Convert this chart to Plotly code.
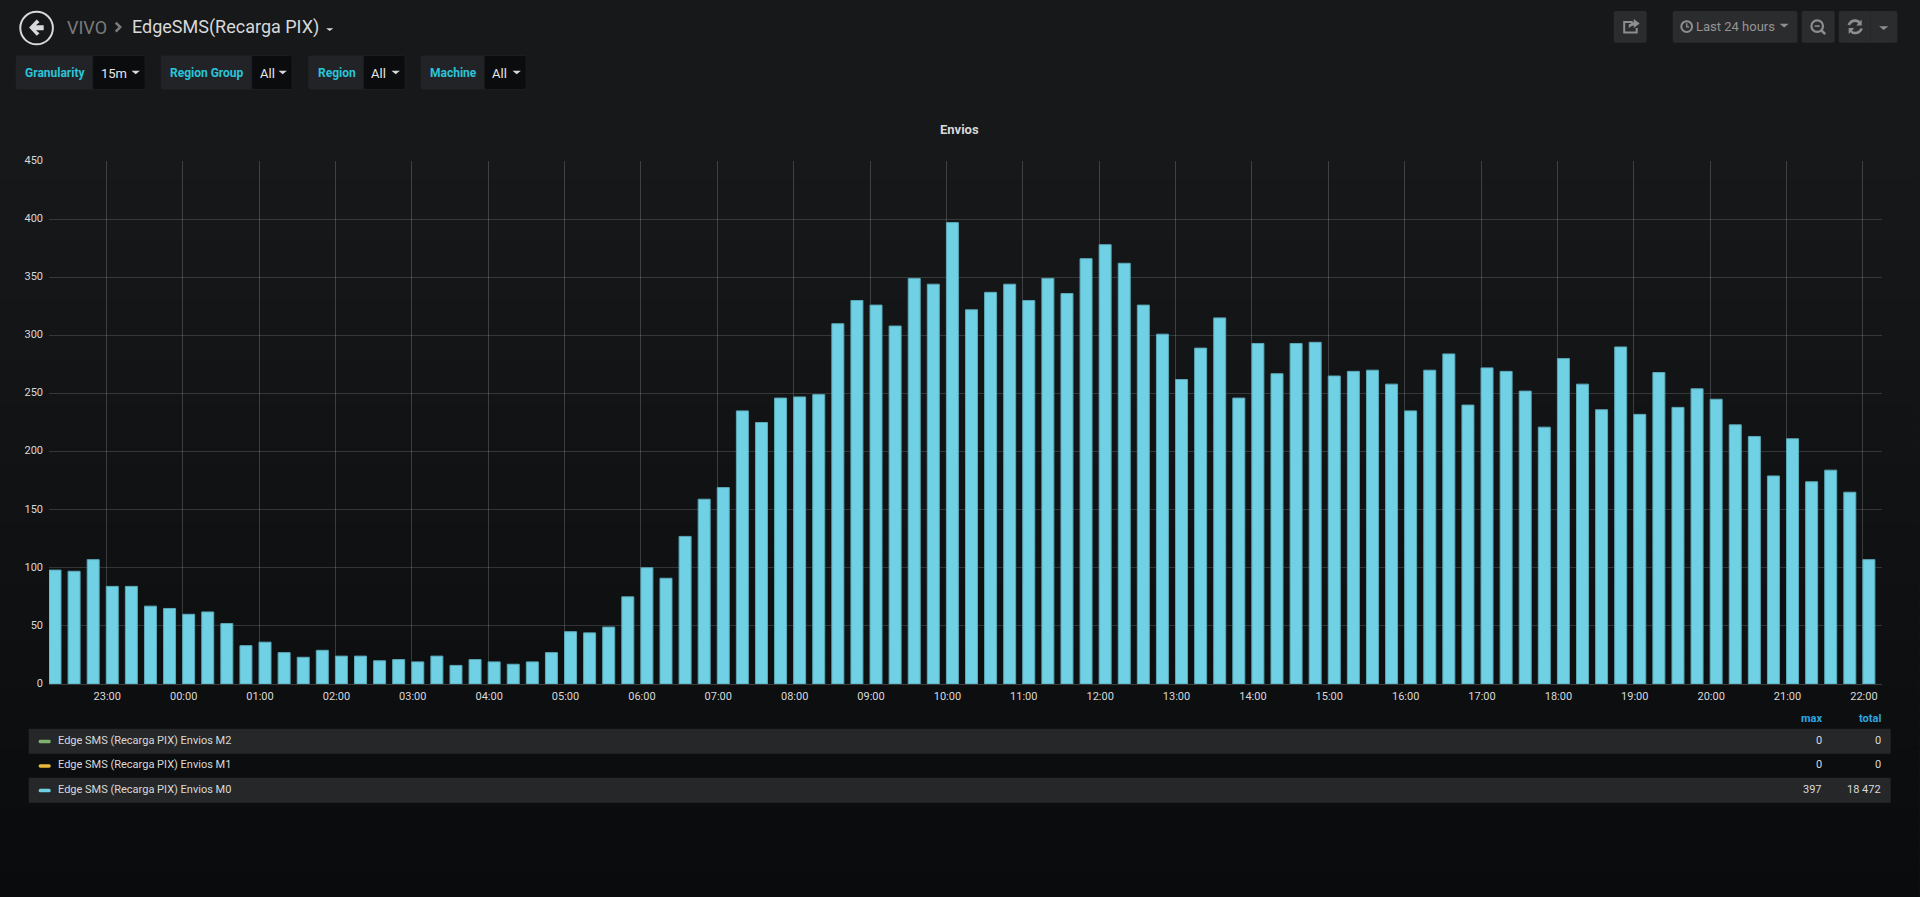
import pandas as pd
import plotly.graph_objects as go

# ---------- data ----------
START = "2024-01-01 22:15"
M0_VALUES = [98, 97, 107, 84, 84, 67, 65, 60, 62, 52, 33, 36, 27, 23, 29, 24,
             24, 20, 21, 19, 24, 16, 21, 19, 17, 19, 27, 45, 44, 49, 75, 100,
             91, 127, 159, 169, 235, 225, 246, 247, 249, 310, 330, 326, 308, 349,
             344, 397, 322, 337, 344, 330, 349, 336, 366, 378, 362, 326, 301, 262,
             289, 315, 246, 293, 267, 293, 294, 265, 269, 270, 258, 235, 270, 284,
             240, 272, 269, 252, 221, 280, 258, 236, 290, 232, 268, 238, 254, 245,
             223, 213, 179, 211, 174, 184, 165, 107]
M1_VALUES = [0] * len(M0_VALUES)
M2_VALUES = [0] * len(M0_VALUES)
NAME_M2 = "Edge SMS (Recarga PIX) Envios M2"
NAME_M1 = "Edge SMS (Recarga PIX) Envios M1"
NAME_M0 = "Edge SMS (Recarga PIX) Envios M0"
Y_TICKS = [0, 50, 100, 150, 200, 250, 300, 350, 400, 450]
VARIABLES = ["Granularity", "Region Group", "Region", "Machine"]
VARIABLE_VALUES = ["15m", "All", "All", "All"]

times = pd.date_range(START, periods=len(M0_VALUES), freq="15min")

# ---------- geometry ----------
W, H = 1920, 897
L, R, T, B = 49.3, 1882.3, 161.0, 684.3
FONT = "Roboto, sans-serif"
TEXT = "#d8d9da"
GREEN, YELLOW, CYAN = "#7EB26D", "#EAB839", "#6ED0E0"


def px(x):
    return (x - L) / (R - L)


def py(y):
    return (B - y) / (B - T)


shapes, notes = [], []


def rect(x0, y0, x1, y1, fill, line=None, r=0):
    if r:
        X0, X1, Y0, Y1 = x0, x1, y0, y1
        p = (f"M{px(X0 + r)},{py(Y0)} L{px(X1 - r)},{py(Y0)} Q{px(X1)},{py(Y0)} {px(X1)},{py(Y0 + r)} "
             f"L{px(X1)},{py(Y1 - r)} Q{px(X1)},{py(Y1)} {px(X1 - r)},{py(Y1)} "
             f"L{px(X0 + r)},{py(Y1)} Q{px(X0)},{py(Y1)} {px(X0)},{py(Y1 - r)} "
             f"L{px(X0)},{py(Y0 + r)} Q{px(X0)},{py(Y0)} {px(X0 + r)},{py(Y0)} Z")
        shapes.append(dict(type="path", path=p, xref="paper", yref="paper", fillcolor=fill,
                           line=dict(width=1 if line else 0, color=line or fill), layer="below"))
    else:
        shapes.append(dict(type="rect", xref="paper", yref="paper", x0=px(x0), x1=px(x1), y0=py(y0), y1=py(y1),
                           fillcolor=fill, line=dict(width=1 if line else 0, color=line or fill), layer="below"))


def poly(points, fill=None, line=None, width=1, close=True):
    p = "M" + " L".join(f"{px(a)},{py(b)}" for a, b in points) + (" Z" if close else "")
    shapes.append(dict(type="path", path=p, xref="paper", yref="paper",
                       fillcolor=fill if fill else "rgba(0,0,0,0)",
                       line=dict(width=width if line else 0, color=line or "rgba(0,0,0,0)"), layer="above"))


def circle(cx, cy, r, line, width=1, fill="rgba(0,0,0,0)"):
    shapes.append(dict(type="circle", xref="paper", yref="paper", x0=px(cx - r), x1=px(cx + r),
                       y0=py(cy + r), y1=py(cy - r), line=dict(color=line, width=width), fillcolor=fill, layer="above"))


def text(x, y, s, size=11, color=TEXT, anchor="left", bold=False, family=FONT):
    notes.append(dict(x=px(x), y=py(y), xref="paper", yref="paper", text=f"<b>{s}</b>" if bold else s,
                      showarrow=False, xanchor=anchor, yanchor="middle", borderpad=0, borderwidth=0,
                      font=dict(family=family, size=size, color=color)))


def caret(x, y, w=4.2, h=3.4, color=TEXT):
    poly([(x - w, y - h / 2), (x + w, y - h / 2), (x, y + h / 2)], fill=color)


# page gradient
TOP_C, BOT_C = (23, 24, 26), (10, 11, 13)
STRIPS = 50
for i in range(STRIPS):
    t = i / (STRIPS - 1)
    c = tuple(round(a + (b - a) * t) for a, b in zip(TOP_C, BOT_C))
    y0 = 150 + (H - 150) * i / STRIPS
    y1 = 150 + (H - 150) * (i + 1) / STRIPS + 1
    rect(0, y0, W, y1, f"rgb{c}")

# header
circle(36.9, 28, 16.3, TEXT, 2)
poly([(29.4, 27.5), (37, 19.5), (39.8, 22.2), (36.2, 25.2), (44, 25.2), (44, 30.2),
      (36.2, 30.2), (39.8, 33.2), (37, 35.6)], fill=TEXT)
text(67, 27, "VIVO", 18, "#7b7b7b")
poly([(116, 22.5), (120.5, 27), (116, 31.5)], line="#7b7b7b", width=2.6, close=False)
text(132, 27, "EdgeSMS(Recarga PIX)", 18, TEXT)
caret(330, 29.5, 3.6, 2.8)

# template variables
VAR_BOXES = [(16, 93, 145.5), (161, 252, 292.5), (308.5, 363.7, 405.5), (421, 484.5, 526.5)]
for name, val, (a, b, c) in zip(VARIABLES, VARIABLE_VALUES, VAR_BOXES):
    rect(a, 55.5, c, 89.5, "#212327", r=3)
    rect(b, 55.5, c, 89.5, "#0b0c0e", line="#1d1e21", r=2)
    text((a + b) / 2 + 0.7, 72.5, name, 12, "#2bc4d8", anchor="center", bold=True)
    text(b + 8, 73, val, 13, "#e6e6e6")
    caret(c - 9.5, 72.5, 4.2, 3.4)

# top-right toolbar
BTN = "#2b2c2e"
ICON = "#8e8e8e"
rect(1614, 11, 1647, 42.7, BTN, r=2)
rect(1673, 11, 1797.7, 42.7, BTN, r=2)
rect(1802, 11, 1835, 42.7, BTN, r=2)
rect(1839, 11, 1897.7, 42.7, BTN, r=2)
rect(1870.5, 11, 1871, 42.7, "#202123")
poly([(1633, 22), (1624.5, 22), (1624.5, 32.5), (1637, 32.5), (1637, 28)], line=ICON, width=2, close=False)
poly([(1629, 28), (1629, 24.5), (1634, 22), (1634, 19), (1640, 23.5), (1634, 28), (1634, 25.5), (1632, 25.8)], fill=ICON)
circle(1687, 26.5, 5.4, ICON, 2)
poly([(1687, 23.2), (1687, 26.8), (1689.5, 26.8)], line=ICON, width=1.4, close=False)
text(1696, 26.7, "Last 24 hours", 13, "#949494")
caret(1784.5, 25.5, 4.6, 3.6, ICON)
circle(1817.5, 26, 5.8, ICON, 2.2)
poly([(1815, 26), (1820, 26)], line=ICON, width=1.6, close=False)
poly([(1821.5, 30), (1825.5, 34)], line=ICON, width=2.6, close=False)
# refresh icon
shapes.append(dict(type="path", xref="paper", yref="paper", layer="above", fillcolor="rgba(0,0,0,0)",
                   line=dict(color=ICON, width=2.6),
                   path=(f"M{px(1849)},{py(25)} Q{px(1851)},{py(20.5)} {px(1855.5)},{py(20.5)} "
                         f"Q{px(1858.5)},{py(20.5)} {px(1860)},{py(23)} "
                         f"M{px(1862)},{py(28.5)} Q{px(1860)},{py(33)} {px(1855.5)},{py(33)} "
                         f"Q{px(1852.5)},{py(33)} {px(1851)},{py(30.5)}")))
poly([(1862, 19.5), (1862, 25.5), (1856.5, 25.5)], fill=ICON)
poly([(1849, 34), (1849, 28), (1854.5, 28)], fill=ICON)
caret(1884, 28, 4.6, 3.6, ICON)

# panel title
text(960, 129.3, "Envios", 13, TEXT, anchor="center", bold=True)

# legend table
ROWS = [(NAME_M2, M2_VALUES, GREEN, 729, 754), (NAME_M1, M1_VALUES, YELLOW, 754, 778), (NAME_M0, M0_VALUES, CYAN, 778, 803)]
X_MAX, X_TOTAL = 1822, 1881
text(X_MAX, 719, "max", 11, "#2ba6e0", anchor="right", bold=True)
text(X_TOTAL, 719, "total", 11, "#2ba6e0", anchor="right", bold=True)
for idx, (name, vals, col, y0, y1) in enumerate(ROWS):
    if idx != 1:
        rect(29, y0, 1891, y1, "#262729")
    ym = (y0 + y1) / 2
    rect(39, ym - 1.5, 51, ym + 2, col, r=1.5)
    text(58, ym - 0.8, name, 11, TEXT)
    text(X_MAX, ym - 0.8, str(max(vals)), 11, TEXT, anchor="right")
    text(X_TOTAL, ym - 0.8, f"{sum(vals):,}".replace(",", " "), 11, TEXT, anchor="right")

# ---------- figure ----------
BAR_MS = 565000
fig = go.Figure()
for name, vals, col in [(NAME_M2, M2_VALUES, GREEN), (NAME_M1, M1_VALUES, YELLOW), (NAME_M0, M0_VALUES, "#70d1e4")]:
    is_main = name == NAME_M0
    fig.add_trace(go.Bar(x=times, y=vals, name=name, width=BAR_MS, offset=0,
                         marker=dict(color=col, line=dict(color="#5aa9b8" if is_main else col, width=1 if is_main else 0)),
                         hoverinfo="x+y"))

fig.update_layout(
    width=W, height=H, autosize=False, showlegend=False, barmode="overlay",
    margin=dict(l=L, r=W - R, t=T, b=H - B, pad=0),
    paper_bgcolor="#17181a", plot_bgcolor="rgba(0,0,0,0)",
    font=dict(family=FONT, size=11, color=TEXT),
    shapes=shapes, annotations=notes,
    xaxis=dict(type="date", range=[times[0], times[0] + pd.Timedelta(hours=24)],
               dtick=3600000, tick0="2024-01-01 23:00", tickformat="%H:%M",
               showgrid=True, gridcolor="rgba(255,255,255,0.18)", gridwidth=1, zeroline=False,
               showline=True, linecolor="#3a3b3d", linewidth=1, ticks="", ticklabelstandoff=2, ticklabelshift=1,
               tickfont=dict(family=FONT, size=11, color=TEXT)),
    yaxis=dict(range=[0, 450], tickvals=Y_TICKS, showgrid=True, gridcolor="rgba(255,255,255,0.15)",
               gridwidth=1, zeroline=False, showline=False, ticks="", ticklabelstandoff=5, ticklabelshift=-1,
               tickfont=dict(family=FONT, size=11, color=TEXT)),
)

fig.write_html("out.html", config=dict(displayModeBar=False),
               post_script="document.body.style.margin='0';document.body.style.overflow='hidden';document.body.style.background='#0b0c0e';")
